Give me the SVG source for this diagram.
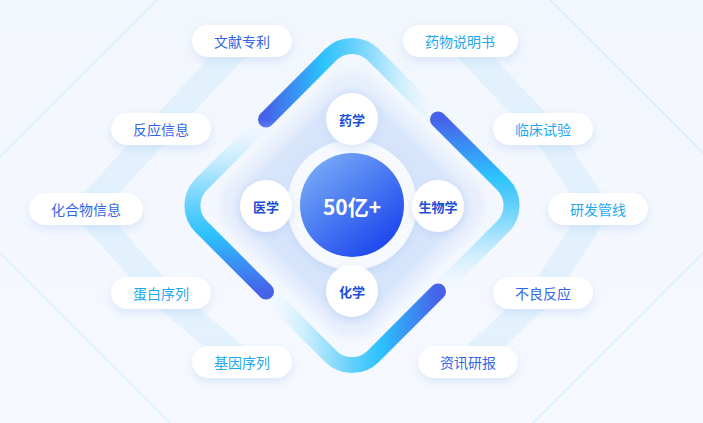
<svg xmlns="http://www.w3.org/2000/svg" width="703" height="423" viewBox="0 0 703 423">
  <defs>
    <linearGradient id="bg" x1="0" y1="0" x2="0" y2="1">
      <stop offset="0" stop-color="#f2f6fd"/>
      <stop offset="1" stop-color="#f6f9ff"/>
    </linearGradient>
    <linearGradient id="core" x1="0.15" y1="0.1" x2="0.85" y2="0.95">
      <stop offset="0" stop-color="#74a7f6"/>
      <stop offset="1" stop-color="#1942ed"/>
    </linearGradient>
    <linearGradient id="g1" gradientUnits="userSpaceOnUse" x1="266" y1="0" x2="438" y2="0">
      <stop offset="0" stop-color="#4662e9"/>
      <stop offset="0.33" stop-color="#2cc2fd"/>
      <stop offset="0.5" stop-color="#62d0fc"/>
      <stop offset="0.72" stop-color="#b8e8fd"/>
      <stop offset="1" stop-color="#e6f5fe" stop-opacity="0"/>
    </linearGradient>
    <linearGradient id="g2" gradientUnits="userSpaceOnUse" x1="0" y1="119.5" x2="0" y2="291.5">
      <stop offset="0" stop-color="#4662e9"/>
      <stop offset="0.33" stop-color="#2cc2fd"/>
      <stop offset="0.5" stop-color="#62d0fc"/>
      <stop offset="0.72" stop-color="#b8e8fd"/>
      <stop offset="1" stop-color="#e6f5fe" stop-opacity="0"/>
    </linearGradient>
    <linearGradient id="g3" gradientUnits="userSpaceOnUse" x1="438" y1="0" x2="266" y2="0">
      <stop offset="0" stop-color="#4662e9"/>
      <stop offset="0.33" stop-color="#2cc2fd"/>
      <stop offset="0.5" stop-color="#62d0fc"/>
      <stop offset="0.72" stop-color="#b8e8fd"/>
      <stop offset="1" stop-color="#e6f5fe" stop-opacity="0"/>
    </linearGradient>
    <linearGradient id="g4" gradientUnits="userSpaceOnUse" x1="0" y1="291.5" x2="0" y2="119.5">
      <stop offset="0" stop-color="#4662e9"/>
      <stop offset="0.33" stop-color="#2cc2fd"/>
      <stop offset="0.5" stop-color="#62d0fc"/>
      <stop offset="0.72" stop-color="#b8e8fd"/>
      <stop offset="1" stop-color="#e6f5fe" stop-opacity="0"/>
    </linearGradient>
    <filter id="sh" x="-30%" y="-40%" width="160%" height="200%">
      <feDropShadow dx="0" dy="4" stdDeviation="5" flood-color="#9cbdec" flood-opacity="0.3"/>
    </filter>
    <filter id="blur" x="-20%" y="-20%" width="140%" height="140%">
      <feGaussianBlur stdDeviation="3.5"/>
    </filter>
    <style>
      .pill { fill: #ffffff; filter: url(#sh); }
      .lbl { font-family: "Noto Sans CJK SC", "Noto Sans", sans-serif; font-size: 14px; text-anchor: middle; dominant-baseline: central; }
      .blue { fill: #3366e6; }
      .cyan { fill: #1ea8f0; }
      .sat { fill: #ffffff; filter: url(#sh); }
      .slbl { font-family: "Noto Sans CJK SC", "Noto Sans", sans-serif; font-size: 13px; font-weight: bold; fill: #1b4ed8; text-anchor: middle; dominant-baseline: central; }
      .band { fill: none; stroke: #d4ecfc; stroke-opacity: 0.55; stroke-width: 26; stroke-linejoin: round; }
      .thin { stroke: #d6f0fd; stroke-width: 1.5; fill: none; }
      .ring { fill: none; stroke-width: 16; stroke-linecap: round; }
    </style>
  </defs>

  <rect width="703" height="423" fill="url(#bg)"/>

  <g id="background-lines">
    <path class="thin" d="M0,157 L157,0 M0,253 L170,423 M550,0 L703,153 M703,253 L533,423"/>
  </g>

  <g id="connectors">
    <polyline class="band" points="242,41 161,129 86,209 161,293 242,362"/>
    <polyline class="band" points="460,41 543,129 597,209 543,293 468,362"/>
  </g>

  <g id="halo">
    <rect x="-104.5" y="-104.5" width="209" height="209" rx="36" fill="#e8effc" transform="translate(352,205) rotate(45)" filter="url(#blur)"/>
    <rect x="-90.5" y="-90.5" width="181" height="181" rx="30" fill="#d7e5fb" transform="translate(352,205) rotate(45)" filter="url(#blur)"/>
  </g>

  <g id="ring">
    <path class="ring" stroke="url(#g1)" d="M266,119.5 L330.8,54.7 A30,30 0 0 1 373.2,54.7 L438,119.5"/>
    <path class="ring" stroke="url(#g2)" d="M438,119.5 L502.8,184.3 A30,30 0 0 1 502.8,226.7 L438,291.5"/>
    <path class="ring" stroke="url(#g3)" d="M438,291.5 L373.2,356.3 A30,30 0 0 1 330.8,356.3 L266,291.5"/>
    <path class="ring" stroke="url(#g4)" d="M266,291.5 L201.2,226.7 A30,30 0 0 1 201.2,184.3 L266,119.5"/>
  </g>

  <g id="center">
    <circle cx="352" cy="205" r="65" fill="#f6f9fe" filter="url(#sh)"/>
    <circle cx="352" cy="205" r="52" fill="url(#core)"/>
    <text x="352" y="206" font-family="'Noto Sans CJK SC', 'Noto Sans', sans-serif" font-size="21" font-weight="bold" fill="#ffffff" text-anchor="middle" dominant-baseline="central">50亿+</text>
  </g>

  <g id="node-yaoxue"><circle class="sat" cx="352" cy="119" r="26"/><text class="slbl" x="352" y="119">药学</text></g>
  <g id="node-yixue"><circle class="sat" cx="266" cy="206" r="26"/><text class="slbl" x="266" y="206">医学</text></g>
  <g id="node-shengwuxue"><circle class="sat" cx="438" cy="206" r="26"/><text class="slbl" x="438" y="206">生物学</text></g>
  <g id="node-huaxue"><circle class="sat" cx="352" cy="291" r="26"/><text class="slbl" x="352" y="291">化学</text></g>

  <g id="node-wenxian"><rect class="pill" x="192" y="25" width="100" height="32" rx="16"/><text class="lbl blue" x="242" y="41">文献专利</text></g>
  <g id="node-fanying"><rect class="pill" x="111" y="113" width="100" height="32" rx="16"/><text class="lbl blue" x="161" y="129">反应信息</text></g>
  <g id="node-huahewu"><rect class="pill" x="29" y="193" width="114" height="32" rx="16"/><text class="lbl blue" x="86" y="209">化合物信息</text></g>
  <g id="node-danbai"><rect class="pill" x="111" y="277" width="100" height="32" rx="16"/><text class="lbl cyan" x="161" y="293">蛋白序列</text></g>
  <g id="node-jiyin"><rect class="pill" x="192" y="346" width="100" height="32" rx="16"/><text class="lbl cyan" x="242" y="362">基因序列</text></g>

  <g id="node-yaowu"><rect class="pill" x="403" y="25" width="115" height="32" rx="16"/><text class="lbl cyan" x="460" y="41">药物说明书</text></g>
  <g id="node-linchuang"><rect class="pill" x="493" y="113" width="100" height="32" rx="16"/><text class="lbl cyan" x="543" y="129">临床试验</text></g>
  <g id="node-yanfa"><rect class="pill" x="548" y="193" width="100" height="32" rx="16"/><text class="lbl cyan" x="598" y="209">研发管线</text></g>
  <g id="node-buliang"><rect class="pill" x="493" y="277" width="100" height="32" rx="16"/><text class="lbl blue" x="543" y="293">不良反应</text></g>
  <g id="node-zixun"><rect class="pill" x="418" y="346" width="100" height="32" rx="16"/><text class="lbl blue" x="468" y="362">资讯研报</text></g>
</svg>
